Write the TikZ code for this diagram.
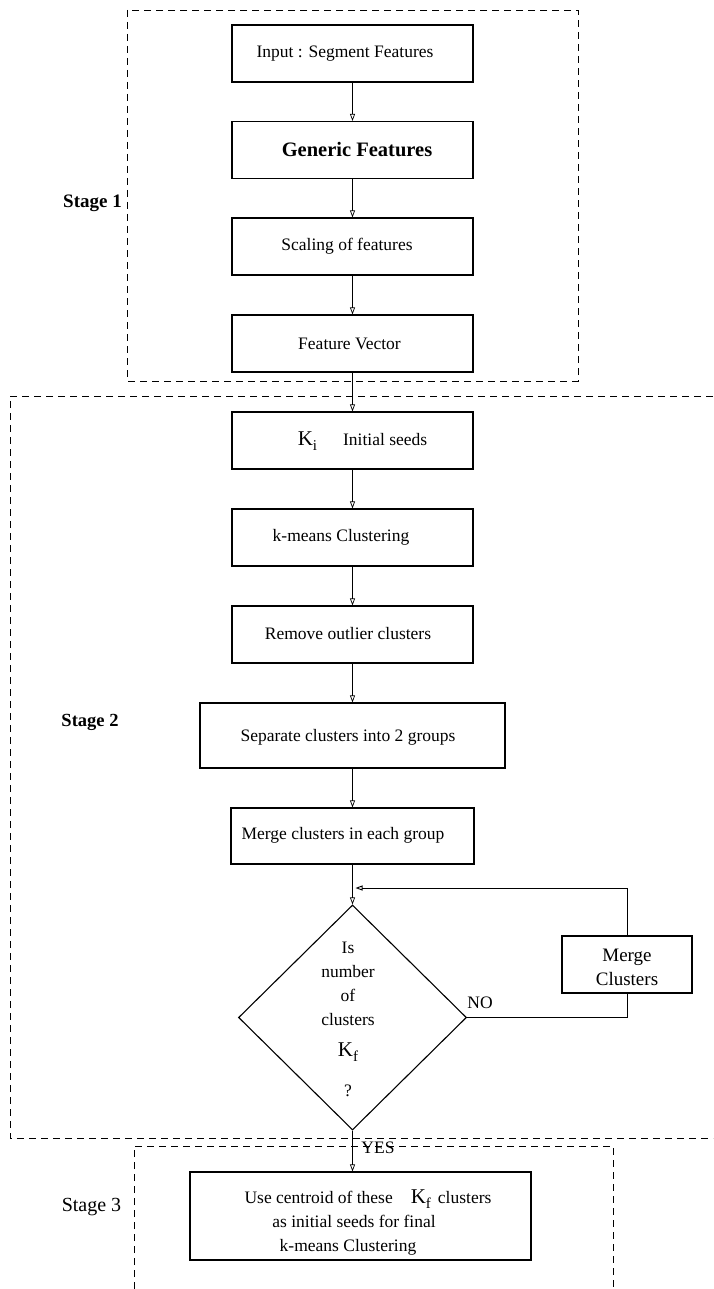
\documentclass[tikz,border=0pt]{standalone}
\usepackage{fontspec}
\setmainfont{Liberation Serif}
\usetikzlibrary{arrows.meta,shapes.geometric}

% subscripted cluster counts
\newcommand{\Ksub}[1]{{\fontsize{21}{21}\selectfont K}\raisebox{-5pt}{\fontsize{15}{15}\selectfont #1}}

\begin{document}
\begin{tikzpicture}[x=1pt,y=-1pt,
  box/.style={draw, line width=1.1pt, inner sep=0pt, minimum width=241pt, minimum height=57pt},
  txt/.style={inner sep=0pt, font=\fontsize{17.5}{24}\selectfont, align=center},
  flow/.style={-{Triangle[open,length=7pt,width=5pt]}, line width=0.7pt},
  region/.style={dash pattern=on 7pt off 5pt, line width=0.9pt},
  stagelbl/.style={inner sep=0pt, font=\fontsize{19}{22}\selectfont\bfseries},
]
\useasboundingbox (0,0) rectangle (713,1289);

% stage regions
\draw[region] (127,10) rectangle (578,381);
\draw[region] (713,396) -- (10,396) -- (10,1138) -- (713,1138);
\draw[region] (134,1289) -- (134,1146) -- (613,1146) -- (613,1289);

\node[stagelbl] (s1) at (92.5,203) {Stage 1};
\node[stagelbl, font=\fontsize{18.5}{22}\selectfont\bfseries] (s2) at (90,722) {Stage 2};
\node[inner sep=0pt, font=\fontsize{20}{22}\selectfont] (s3) at (91.5,1207) {Stage 3};

% stage 1 boxes
\node[box] (b1) at (352.5,53.5) {};
\node[txt] (t1) at (345,53.5) {Input : Segment Features};
\node[box] (b2) at (352.5,150) {};
\node[txt, font=\fontsize{20.5}{24}\selectfont\bfseries] (t2) at (357,150) {Generic Features};
\node[box] (b3) at (352.5,246.5) {};
\node[txt] (t3) at (347,246.5) {Scaling of features};
\node[box] (b4) at (352.5,343.5) {};
\node[txt] (t4) at (349.5,343.5) {Feature Vector};

% stage 2 boxes
\node[box] (ki) at (352.5,440.5) {};
\node[txt] (tki) at (362.5,441) {\Ksub{i}\hspace{26pt}Initial seeds};
\node[box] (km) at (352.5,537.5) {};
\node[txt] (tkm) at (341,537) {k-means Clustering};
\node[box] (rm) at (352.5,634.5) {};
\node[txt] (trm) at (348,634) {Remove outlier clusters};
\node[box, minimum width=305pt, minimum height=65pt] (sep) at (352.5,735.5) {};
\node[txt] (tsep) at (348,737) {Separate clusters into 2 groups};
\node[box, minimum width=243pt, minimum height=56pt] (mg) at (352.5,836) {};
\node[txt] (tmg) at (343,835) {Merge clusters in each group};

% decision
\node[draw, line width=1.1pt, diamond, inner sep=0pt, minimum width=228pt, minimum height=225pt] (dec) at (352.5,1017.5) {};
\node[txt, anchor=north] (tdec) at (348,942) {Is\\ number\\ of\\ clusters\\[7pt] \Ksub{f}\\[16pt] ?};

\node[box, minimum width=130pt, minimum height=57pt] (mc) at (627,964.5) {};
\node[txt, font=\fontsize{19}{24}\selectfont] (tmc) at (627,967) {Merge\\ Clusters};

% stage 3 box
\node[box, minimum width=341pt, minimum height=88pt] (st3) at (360.5,1216) {};
\node[txt] (tst3) at (354,1222) {\hspace*{28pt}Use centroid of these\hspace{18pt}\Ksub{f}\hspace{7pt}clusters\\ as initial seeds for final\\ k-means Clustering\hspace*{12pt}};

% connectors
\draw[flow] (b1) -- (b2);
\draw[flow] (b2) -- (b3);
\draw[flow] (b3) -- (b4);
\draw[flow] (b4) -- (ki);
\draw[flow] (ki) -- (km);
\draw[flow] (km) -- (rm);
\draw[flow] (rm) -- (sep);
\draw[flow] (sep) -- (mg);
\draw[flow] (mg) -- (dec.north);
\coordinate (join) at (352.5,888);
\draw[line width=0.9pt] (dec.east) -| (mc.south);
\draw[flow, line width=0.9pt] (mc.north) |- ([xshift=3pt]join);
\draw[flow] (dec.south) -- (dec.south |- st3.north);

\node[txt] (no) at (480,1003) {NO};
\node[txt] (yes) at (378,1148) {YES};
\end{tikzpicture}
\end{document}
